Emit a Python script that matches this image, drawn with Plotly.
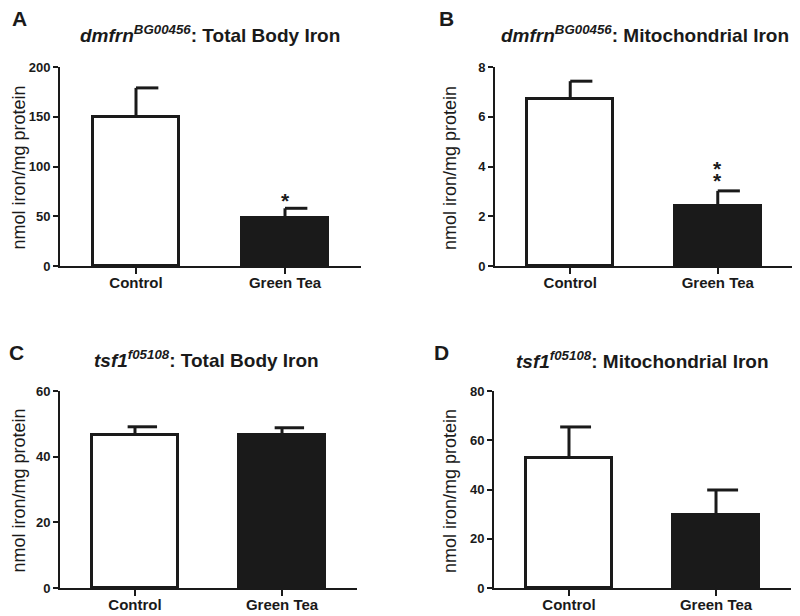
import plotly.graph_objects as go

# The page body has an 8px margin, so the figure is drawn 8px right and down.
OFF = 8
W, H = 800 - OFF, 616 - OFF

categories = ["Control", "Green Tea"]

# Panel values (mean, error)
a_means = [150, 48]
a_err = [29, 10]
b_means = [6.7, 2.42]
b_err = [0.73, 0.6]
c_means = [46.7, 46.6]
c_err = [2.4, 2.2]
d_means = [52.6, 29.7]
d_err = [12.8, 10.1]

y_max = [200, 8, 60, 80]
y_step = [50, 2, 20, 20]

panel_letters = ["A", "B", "C", "D"]
gene_names = ["dmfrn", "dmfrn", "tsf1", "tsf1"]
gene_sups = ["BG00456", "BG00456", "f05108", "f05108"]
measures = ["Total Body Iron", "Mitochondrial Iron", "Total Body Iron", "Mitochondrial Iron"]
y_title = "nmol iron/mg protein"

# significance markers: (panel index, category index, y value in data units)
stars_panel = [0, 1, 1]
stars_cat = [1, 1, 1]
stars_y = [68.8, 4.02, 3.53]

means = [a_means, b_means, c_means, d_means]
errs = [a_err, b_err, c_err, d_err]

# layout (screen-pixel boxes of plot areas)
boxes = [(60, 361, 67, 266), (495, 793, 67, 266), (60, 357, 391, 588), (494, 791, 391, 588)]
letter_pos = [(19.5, 18), (446.5, 18.5), (16.5, 352.5), (441.5, 352.5)]
title_pos = [(210, 34), (645, 34), (207, 358.5), (642, 359.5)]
ytitle_pos = [(18.5, 168), (450, 168), (18.5, 491), (450, 491)]
cap_left = [0.0, 0.0, 0.05, 0.06]
cap_right = 0.15

INK = "#1a1a1a"
FONT = "Liberation Sans, Arial, sans-serif"


def px(x):
    return (x - OFF) / W


def py(y):
    return 1 - (y - OFF) / H


fig = go.Figure()
annotations = []
layout_axes = {}

for i in range(4):
    sfx = "" if i == 0 else str(i + 1)
    xa, ya = "x" + sfx, "y" + sfx
    xs = list(range(len(categories)))
    fig.add_trace(go.Bar(
        x=xs, y=means[i], width=0.58, xaxis=xa, yaxis=ya,
        marker=dict(color=["white", INK], line=dict(color=INK, width=3)),
        showlegend=False, hoverinfo="skip",
    ))
    ex, ey = [], []
    for k, (m, e) in enumerate(zip(means[i], errs[i])):
        ex += [k, k, None, k - cap_left[i], k + cap_right, None]
        ey += [m, m + e, None, m + e, m + e, None]
    fig.add_trace(go.Scatter(
        x=ex, y=ey, mode="lines", xaxis=xa, yaxis=ya,
        line=dict(color=INK, width=3), showlegend=False, hoverinfo="skip",
    ))

    x0, x1, yt, yb = boxes[i]
    axis_common = dict(
        showgrid=False, zeroline=False, showline=True, linewidth=2, linecolor=INK,
        ticks="outside", tickwidth=2, tickcolor=INK, automargin=False,
    )
    layout_axes["xaxis" + sfx] = dict(
        domain=[px(x0), px(x1)], anchor=ya, range=[-0.51, 1.51],
        tickvals=xs, ticktext=categories, ticklen=6, ticklabelstandoff=-4,
        tickfont=dict(family=FONT, size=15, color=INK, weight="bold"), **axis_common,
    )
    layout_axes["yaxis" + sfx] = dict(
        domain=[py(yb), py(yt)], anchor=xa, range=[0, y_max[i]],
        tick0=0, dtick=y_step[i], ticklen=5,
        tickfont=dict(family=FONT, size=13, color=INK, weight="bold"), **axis_common,
    )

    lx, ly = letter_pos[i]
    annotations.append(dict(
        x=px(lx), y=py(ly), xref="paper", yref="paper", showarrow=False,
        text="<b>%s</b>" % panel_letters[i], xanchor="center", yanchor="middle",
        font=dict(family=FONT, size=21, color=INK),
    ))
    tx, ty = title_pos[i]
    annotations.append(dict(
        x=px(tx), y=py(ty), xref="paper", yref="paper", showarrow=False,
        text="<b><i>%s</i><sup><i>%s</i></sup>: %s</b>" % (gene_names[i], gene_sups[i], measures[i]),
        xanchor="center", yanchor="middle",
        font=dict(family=FONT, size=19, color=INK),
    ))
    yx, yy = ytitle_pos[i]
    annotations.append(dict(
        x=px(yx), y=py(yy), xref="paper", yref="paper", showarrow=False,
        text=y_title, textangle=-90, xanchor="center", yanchor="middle", borderpad=0,
        font=dict(family=FONT, size=18, color=INK),
    ))

for p, c, yv in zip(stars_panel, stars_cat, stars_y):
    sfx = "" if p == 0 else str(p + 1)
    annotations.append(dict(
        x=c, y=yv, xref="x" + sfx, yref="y" + sfx, showarrow=False,
        text="<b>*</b>", xanchor="center", yanchor="middle", yshift=-2.5,
        font=dict(family=FONT, size=21, color=INK),
    ))

fig.update_layout(
    width=W, height=H, margin=dict(l=0, r=0, t=0, b=0, autoexpand=False),
    paper_bgcolor="white", plot_bgcolor="white",
    annotations=annotations, bargap=0, **layout_axes,
)

fig.write_html("out.html")
